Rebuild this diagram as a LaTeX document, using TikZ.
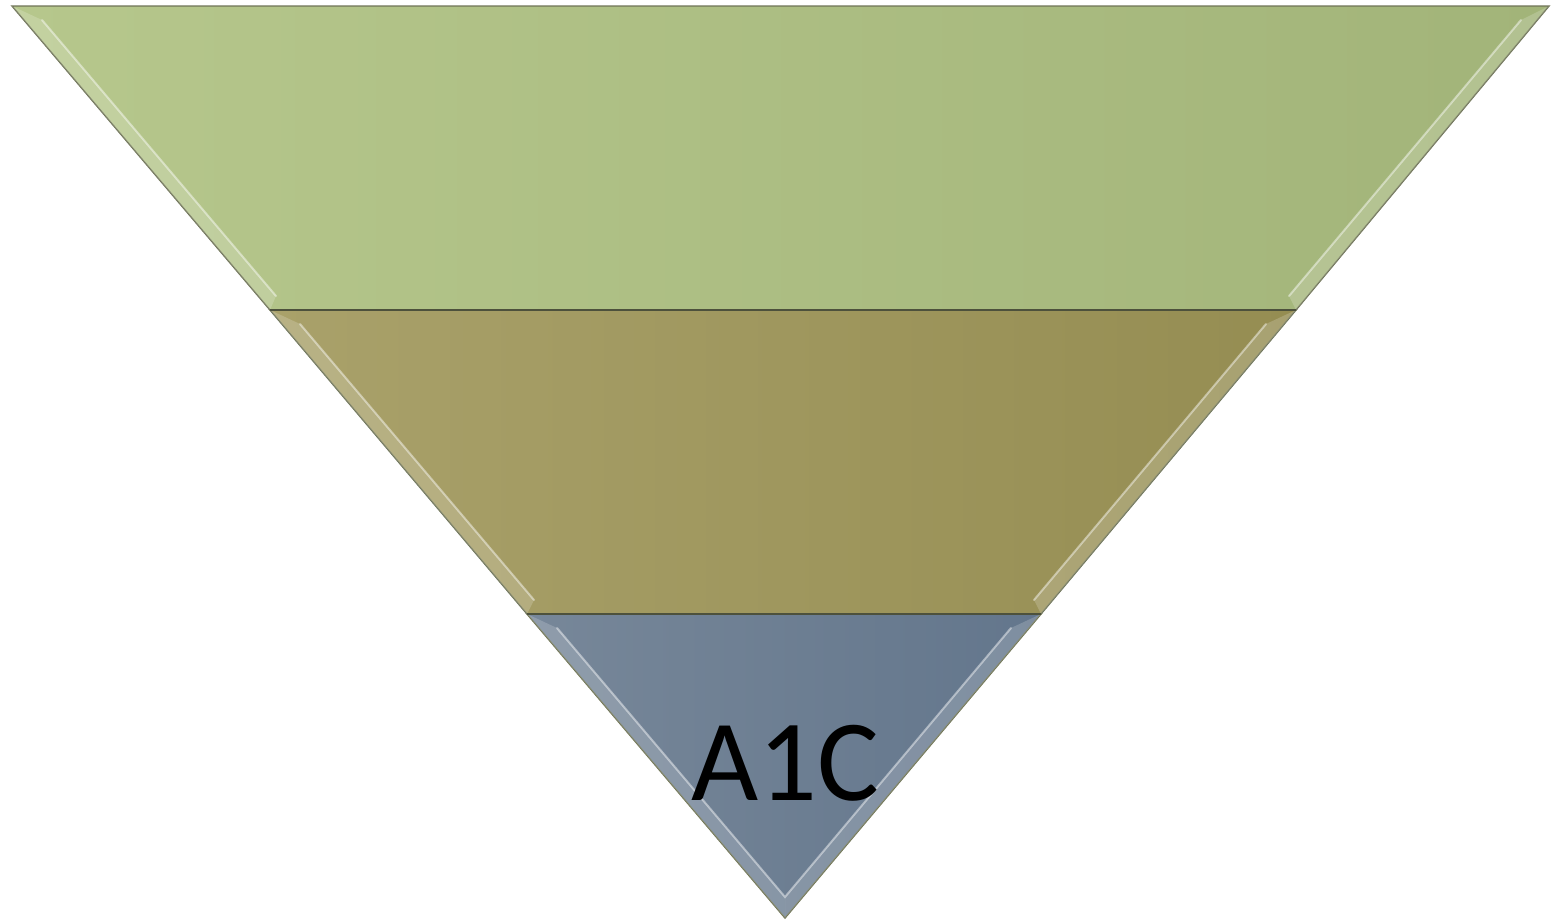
\documentclass[tikz,border=0pt]{standalone}
\usepackage{fontspec}
\setmainfont{Carlito}
\usepackage{tikz}
\usetikzlibrary{calc}

\definecolor{topA}{HTML}{B6C78C}
\definecolor{topB}{HTML}{A2B479}
\definecolor{midA}{HTML}{A9A16A}
\definecolor{midB}{HTML}{958D52}
\definecolor{lowA}{HTML}{778799}
\definecolor{lowB}{HTML}{63768C}
\definecolor{edgegray}{HTML}{6E7356}

\begin{document}
\begin{tikzpicture}[x=1pt, y=-1pt,
    band/.style={draw=edgegray, line width=1.4pt, line join=miter},
    strip/.style={fill=white, opacity=0.18},
    bevel/.style={draw=white, line width=2pt, opacity=0.45, line cap=round}]

        % Frame of the picture
        \useasboundingbox (0,0) rectangle (1551,922);

        % Outer corners of the funnel
        \coordinate (tl) at (12,6);
        \coordinate (tr) at (1549,6);
        \coordinate (ml) at (270,310);
        \coordinate (mr) at (1296,310);
        \coordinate (bl) at (527,614);
        \coordinate (br) at (1041,614);
        \coordinate (apex) at (785,918);

        % Inner bevel corners
        \coordinate (tli) at (42,20);
        \coordinate (tri) at (1521,20);
        \coordinate (tlo) at (276,296);
        \coordinate (tro) at (1289,296);
        \coordinate (mli) at (300,324);
        \coordinate (mri) at (1266,324);
        \coordinate (mlo) at (534,600);
        \coordinate (mro) at (1034,600);
        \coordinate (bli) at (557,628);
        \coordinate (bri) at (1011,628);
        \coordinate (apexi) at (785,897);

        % Top band
        \shade[band, left color=topA, right color=topB] (tl) -- (tr) -- (mr) -- (ml) -- cycle;
        \fill[strip] (tl) -- (tli) -- (tlo) -- (ml) -- cycle;
        \fill[strip] (tr) -- (tri) -- (tro) -- (mr) -- cycle;
        \draw[bevel] (tli) -- (tlo);
        \draw[bevel] (tri) -- (tro);

        % Middle band
        \shade[band, left color=midA, right color=midB] (ml) -- (mr) -- (br) -- (bl) -- cycle;
        \fill[strip] (ml) -- (mli) -- (mlo) -- (bl) -- cycle;
        \fill[strip] (mr) -- (mri) -- (mro) -- (br) -- cycle;
        \draw[bevel] (mli) -- (mlo);
        \draw[bevel] (mri) -- (mro);

        % Bottom triangle
        \shade[band, left color=lowA, right color=lowB] (bl) -- (br) -- (apex) -- cycle;
        \fill[strip] (bl) -- (bli) -- (apexi) -- (apex) -- cycle;
        \fill[strip] (br) -- (bri) -- (apexi) -- (apex) -- cycle;
        \draw[bevel] (bli) -- (apexi) -- (bri);

        % Dividing lines
        \draw[edgegray!70!black, line width=2pt] (ml) -- (mr);
        \draw[edgegray!70!black, line width=2pt] (bl) -- (br);

        % Label
        \node[anchor=base, inner sep=0pt, font=\fontsize{116}{120}\selectfont] (label) at (785,800) {A1C};

      \end{tikzpicture}
\end{document}
